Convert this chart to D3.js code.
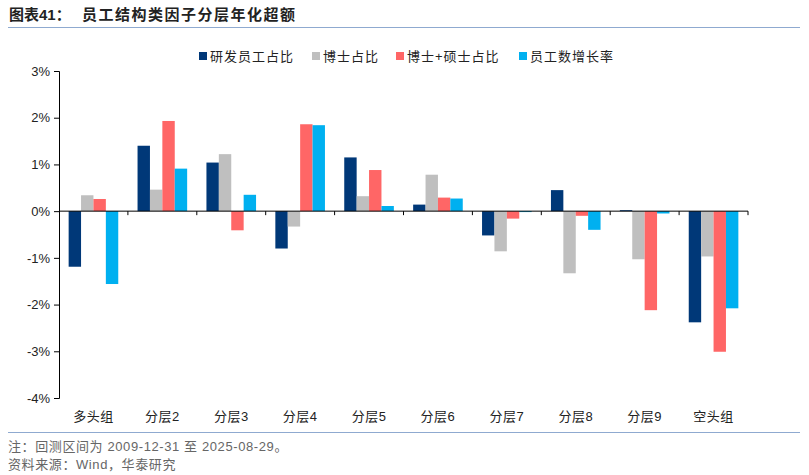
<!DOCTYPE html>
<html>
<head>
<meta charset="utf-8">
<script src="https://cdn.jsdelivr.net/npm/d3@7"></script>
<style>
  body { margin: 0; background: #fff; }
  text { font-family: Arial, "Liberation Sans", "Noto Sans CJK SC", sans-serif; }
</style>
</head>
<body>
<div id="canvas"></div>
<script>
// data (annualized excess, %)
const categories = ["多头组", "分层2", "分层3", "分层4", "分层5", "分层6", "分层7", "分层8", "分层9", "空头组"];
const seriesNames = ["研发员工占比", "博士占比", "博士+硕士占比", "员工数增长率"];
const rdShare = [-1.19, 1.40, 1.04, -0.80, 1.15, 0.14, -0.52, 0.45, 0.02, -2.38];
const phdShare = [0.34, 0.46, 1.22, -0.33, 0.32, 0.78, -0.86, -1.33, -1.03, -0.97];
const phdMasterShare = [0.26, 1.93, -0.41, 1.86, 0.88, 0.29, -0.16, -0.10, -2.12, -3.01];
const staffGrowth = [-1.56, 0.91, 0.35, 1.84, 0.11, 0.27, -0.02, -0.40, -0.05, -2.08];
const yTicks = [3, 2, 1, 0, -1, -2, -3, -4];
const colors = ["#003878", "#BFBFBF", "#FF6666", "#00B0F0"];

const allSeries = [rdShare, phdShare, phdMasterShare, staffGrowth];

const width = 809;
const height = 475;
const margin = { top: 71, left: 59, bottom: 77, right: 61 };
const iwidth = width - margin.left - margin.right;
const iheight = height - margin.top - margin.bottom;

const svg = d3.select("#canvas").append("svg")
  .attr("width", width)
  .attr("height", height);

// title + rules
const title = svg.append("text")
  .attr("x", 9).attr("y", 20)
  .style("font-size", "15px").style("font-weight", "bold").style("fill", "#222");
title.append("tspan").text("图表41：");
title.append("tspan").attr("x", 82).style("letter-spacing", "1.5px").text("员工结构类因子分层年化超额");
svg.append("line").attr("x1", 8).attr("x2", 800).attr("y1", 27.5).attr("y2", 27.5)
  .attr("stroke", "#8FAAD0").attr("stroke-width", 1);
svg.append("line").attr("x1", 8).attr("x2", 800).attr("y1", 432.5).attr("y2", 432.5)
  .attr("stroke", "#8FAAD0").attr("stroke-width", 1);

svg.append("text").attr("x", 8).attr("y", 451)
  .style("font-size", "13px").style("fill", "#666").style("letter-spacing", "0.6px")
  .text("注：回测区间为 2009-12-31 至 2025-08-29。");
svg.append("text").attr("x", 8).attr("y", 469)
  .style("font-size", "13px").style("fill", "#666").style("letter-spacing", "0.6px")
  .text("资料来源：Wind，华泰研究");

// legend
const legendX = [199, 312, 396, 519];
const legend = svg.append("g");
seriesNames.forEach((name, i) => {
  legend.append("rect")
    .attr("x", legendX[i]).attr("y", 52)
    .attr("width", 8).attr("height", 8)
    .style("fill", colors[i]);
  legend.append("text")
    .attr("x", legendX[i] + 11).attr("y", 61)
    .style("font-size", "13px").style("fill", "#222").style("letter-spacing", "1px")
    .text(name);
});

const g = svg.append("g")
  .attr("transform", `translate(${margin.left},${margin.top})`);

const y = d3.scaleLinear().domain([-4, 3]).range([iheight, 0]);

const x = d3.scaleBand()
  .domain(categories)
  .range([0, iwidth])
  .paddingInner(0.28)
  .paddingOuter(0.14);

const xs = d3.scaleBand()
  .domain(d3.range(seriesNames.length))
  .range([0, x.bandwidth()]);

const band = d3.scaleBand().domain(categories).range([0, iwidth]);

categories.forEach((c, ci) => {
  allSeries.forEach((vals, si) => {
    const v = vals[ci];
    g.append("rect")
      .attr("x", x(c) + xs(si))
      .attr("y", y(Math.max(0, v)))
      .attr("width", xs.bandwidth())
      .attr("height", Math.abs(y(v) - y(0)))
      .style("fill", colors[si]);
  });
});

// y axis
const yAxis = g.append("g")
  .call(d3.axisLeft(y).tickValues(yTicks).tickSize(5).tickFormat(d => d + "%"));
yAxis.select(".domain").attr("stroke", "#000");
yAxis.selectAll("text").style("font-size", "13px").style("fill", "#222")
  .style("font-family", "Arial, 'Liberation Sans', sans-serif").attr("x", -9);

// zero line with category ticks
g.append("line")
  .attr("x1", 0).attr("x2", iwidth)
  .attr("y1", y(0)).attr("y2", y(0))
  .attr("stroke", "#000");
const bounds = categories.map(c => band(c)).concat([iwidth]);
g.selectAll(".xtick").data(bounds.slice(1)).enter().append("line")
  .attr("x1", d => d).attr("x2", d => d)
  .attr("y1", y(0)).attr("y2", y(0) + 4)
  .attr("stroke", "#000");

// category labels
g.selectAll(".xlab").data(categories).enter().append("text")
  .attr("x", d => band(d) + band.bandwidth() / 2)
  .attr("y", iheight + 23)
  .attr("text-anchor", "middle")
  .style("font-size", "13px").style("fill", "#222").style("letter-spacing", "0.5px")
  .text(d => d);
</script>
</body>
</html>
